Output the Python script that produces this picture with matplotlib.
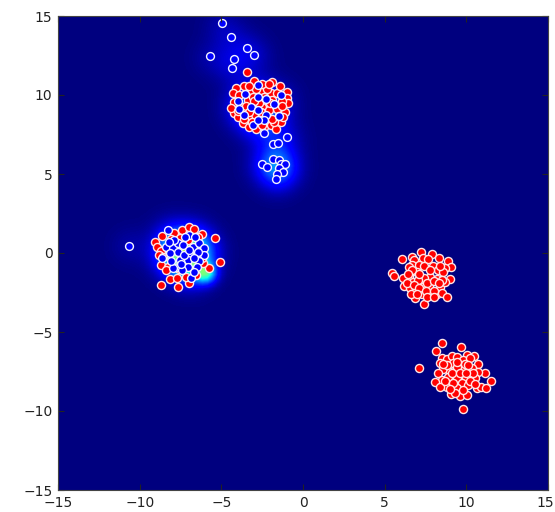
import numpy as np
import matplotlib
matplotlib.use('Agg')
import matplotlib.pyplot as plt
from matplotlib.transforms import ScaledTranslation

ticks = [-15, -10, -5, 0, 5, 10, 15]

blue_x = [-4.96, -4.41, -3.4, -2.97, -5.67, -4.23, -4.37, -0.96, -2.38, -1.83, -1.52,
          -2.48, -2.18, -1.83, -1.5, -1.36, -1.1, -1.46, -1.22, -1.6, -1.67,
          -3.96, -3.55, -2.78, -2.78, -2.27, -1.77, -1.36, -3.19, -2.78, -2.27, -1.5,
          -3.64, -3.09, -2.38, -2.78, -3.9,
          -8.27, -8.37, -7.97, -7.66, -7.32, -6.95, -6.75, -6.38, -6.04, -6.04, -6.44,
          -6.95, -7.66, -8.17, -8.62, -7.56, -7.05, -6.38, -7.66, -7.05, -6.5, -7.97,
          -6.85, -10.65, -7.2, -7.9, -6.6, -7.3, -6.7, -8.1, -7.4, -8.2, -7.0, -7.5, -6.7]
blue_y = [14.58, 13.65, 13.0, 12.53, 12.47, 12.28, 11.7, 7.36, 7.58, 6.9, 6.94,
          5.65, 5.46, 5.95, 5.89, 5.63, 5.61, 5.36, 5.11, 4.98, 4.7,
          9.64, 10.06, 10.63, 9.85, 9.73, 9.41, 10.0, 9.26, 9.05, 8.73, 8.67,
          8.73, 8.1, 8.42, 8.42, 9.09,
          1.45, 0.4, 0.29, 0.61, 0.5, 1.14, 0.4, 0.61, 0.29, -0.13, 0.08,
          -0.02, 0.08, -0.02, -0.3, -0.45, -0.45, -0.49, -0.87, -0.87, -0.87, -0.97,
          -1.61, 0.44, 1.0, 0.8, 1.0, -0.1, -0.3, -0.5, -1.1, 0.7, 0.2, -0.7, -1.2]

red_x = [-3.45, -1.87, -3.03, -3.6, -4.1, -4.31, -1.01, -0.95, -0.89, -1.97, -1.62, -3.19,
         -4.2, -4.0, -3.7, -3.29, -2.88, -2.38, -1.97, -1.66, -1.36, -1.1, -1.46, -2.48,
         -3.39, -3.09, -3.7, -4.2, -2.07, -2.99, -3.39, -1.87, -2.48, -1.26, -1.77,
         -2.7, -3.1, -2.2, -2.6, -3.6, -2.2, -1.6, -2.9,
         -3.9, -3.3, -2.5, -1.4, -1.3, -2.0, -2.4, -3.0, -3.5, -4.4, -4.0, -3.3, -2.6,
         -1.9, -1.5, -3.1, -2.5, -3.6, -2.1, -1.2,
         -9.09, -8.92, -8.68, -8.82, -8.62, -7.87, -7.4, -6.99, -6.65, -6.18, -5.36, -5.08,
         -5.73, -8.68, -8.68, -7.66, -8.17, -7.72, -6.95, -7.15, -8.07, -6.44, -7.05, -6.14,
         -8.58, -8.27, -6.54, -7.56, -7.6, -8.4, -6.2,
         7.21, 7.88, 6.07, 6.66, 7.37, 8.35, 8.9, 9.04, 6.8, 7.68, 6.66, 7.13, 7.98, 8.69,
         8.29, 5.44, 5.6, 6.46, 6.97, 7.78, 7.41, 8.23, 9.0, 6.15, 6.19, 6.76, 7.37, 7.74,
         8.39, 6.56, 6.86, 7.27, 7.78, 8.19, 8.53, 8.8, 7.41, 6.86, 7.07, 8.69, 6.36,
         6.5, 7.4, 7.8, 8.6, 6.7, 7.1, 7.6, 8.0, 8.5, 6.4, 6.8, 7.1, 7.5, 8.0, 8.3,
         6.6, 7.0, 7.6, 8.0, 8.4,
         8.53, 8.13, 9.69, 7.11, 8.49, 8.8, 9.1, 9.45, 10.06, 10.48, 9.77, 10.22, 8.39, 9.16,
         10.73, 9.61, 8.59, 10.32, 9.85, 11.13, 8.25, 9.0, 10.73, 9.41, 9.98, 8.53, 8.9,
         10.52, 11.5, 8.08, 9.71, 8.8, 8.39, 9.41, 10.63, 10.89, 11.2, 10.12, 9.06, 9.61,
         10.06, 9.77, 9.3,
         8.8, 9.4, 9.9, 10.4, 9.1, 9.6, 8.7, 9.2, 10.0, 10.2, 9.0, 9.8, 9.4, 10.1, 8.6, 10.5]
red_y = [11.48, 10.82, 10.91, 10.57, 10.46, 10.15, 10.21, 9.83, 9.47, 10.1, 10.15, 10.32,
         8.84, 8.63, 8.2, 7.95, 7.83, 7.95, 8.1, 7.85, 8.31, 8.94, 9.22, 9.26,
         9.68, 9.9, 9.26, 9.58, 9.05, 8.73, 8.52, 9.68, 10.21, 9.64, 8.31,
         9.5, 9.2, 8.6, 8.4, 9.0, 10.4, 9.1, 10.4,
         10.0, 10.6, 10.7, 10.6, 9.3, 9.5, 9.9, 9.6, 9.3, 9.2, 9.0, 8.9, 8.9,
         8.5, 8.7, 8.3, 8.1, 8.5, 10.7, 8.6,
         0.72, 0.4, 0.15, -0.13, 1.07, 1.24, 1.45, 1.62, 1.52, 1.2, 0.93, -0.55,
         -0.97, -0.76, -2.03, -2.18, -1.65, -1.56, -1.92, -1.5, 0.88, 1.03, 0.82, -0.66,
         -0.23, -0.87, -1.39, 0.93, -1.0, -1.1, -0.3,
         0.08, -0.07, -0.4, -0.24, -0.34, -0.34, -0.49, -0.91, -0.45, -0.4, -0.76, -0.76, -0.83, -0.97,
         -1.08, -1.25, -1.44, -1.46, -1.18, -1.5, -1.61, -1.67, -1.65, -1.61, -2.09, -1.82, -2.13, -2.09,
         -2.13, -2.24, -2.45, -2.6, -2.66, -2.6, -2.56, -2.77, -3.23, -2.87, -1.71, -1.82, -1.92,
         -0.9, -0.8, -1.1, -1.2, -1.1, -1.3, -1.9, -1.8, -1.7, -1.3, -2.0, -2.2, -2.4, -2.4, -1.9,
         -2.6, -2.6, -2.8, -2.8, -0.8,
         -5.68, -6.21, -5.93, -7.28, -6.67, -6.73, -6.52, -6.61, -6.46, -6.52, -6.78, -6.67, -6.99, -6.99,
         -7.05, -7.16, -7.37, -7.3, -7.41, -7.62, -7.62, -7.51, -7.51, -7.94, -7.89, -8.04, -7.83,
         -7.94, -8.1, -8.15, -8.25, -8.46, -8.46, -8.57, -8.57, -8.51, -8.57, -8.36, -8.93, -9.05,
         -8.99, -9.88, -8.89,
         -7.1, -7.2, -7.0, -7.6, -7.6, -7.6, -8.1, -8.2, -7.6, -8.1, -8.6, -8.7, -6.9, -7.1, -7.0, -8.3]

# bright patch on the edge of the left cluster
hot_x = [-6.0]
hot_y = [-1.3]
hot_w = [10.0]

# density of the blue points, shown behind the scatter
grid = np.linspace(-15, 15, 100)
gx, gy = np.meshgrid(grid, grid)
dens = np.zeros_like(gx)
for px, py in zip(blue_x, blue_y):
    dens += np.exp(-((gx - px)**2 + (gy - py)**2) / (2 * 0.8**2))
for px, py, w in zip(hot_x, hot_y, hot_w):
    dens += w * np.exp(-((gx - px)**2 + (gy - py)**2) / (2 * 0.45**2))

fig = plt.figure(figsize=(5.55, 5.12), dpi=100)
ax = fig.add_axes([58 / 555, 1 - 490 / 512, 490 / 555, 474 / 512])
ax.imshow(dens, extent=[-15, 15, -15, 15], origin='lower', cmap='jet',
          vmin=0, vmax=30, interpolation='bilinear', aspect='auto')
ax.scatter(red_x, red_y, s=34, c='red', edgecolors='#ffe6e6', linewidths=1)
ax.scatter(blue_x, blue_y, s=32, c='blue', edgecolors='#f4f4ff', linewidths=1)

ax.set_xlim(-15, 15)
ax.set_ylim(-15, 15)
ax.set_xticks(ticks)
ax.set_yticks(ticks)
ax.tick_params(direction='in', top=True, right=True, length=4, labelsize=10,
               colors='#222222', pad=4)
for s in ax.spines.values():
    s.set_color('#444444')

# last x label sits right at the image edge, nudge it in
last = ax.get_xticklabels()[-1]
last.set_transform(last.get_transform() + ScaledTranslation(-2 / 72, 0, fig.dpi_scale_trans))
plt.savefig('out.png', dpi=100)
